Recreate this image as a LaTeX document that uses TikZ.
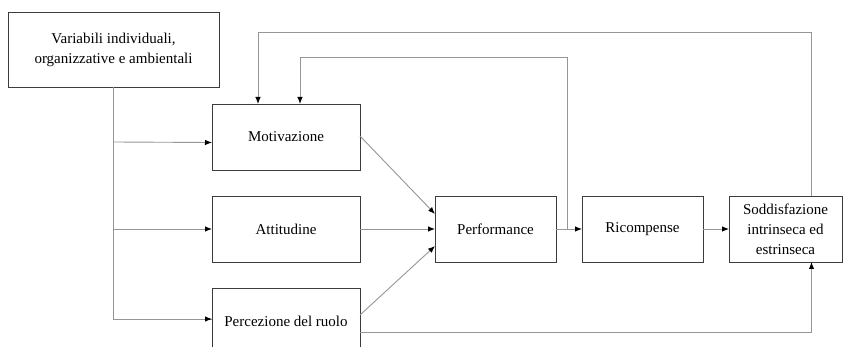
\documentclass[tikz,border=0pt]{standalone}
\usepackage{fontspec}
\setmainfont{Liberation Serif}
\usepackage{tikz}
\usetikzlibrary{positioning,arrows.meta,calc}
\definecolor{edge}{RGB}{60,60,60}
\definecolor{wire}{RGB}{150,150,150}
\newcommand\boxfontsize{\fontsize{15}{20}\selectfont}

\begin{document}
\begin{tikzpicture}[
  x=1pt, y=-1pt,
  font=\boxfontsize,
  block/.style={draw=edge,line width=0.9pt,inner sep=0pt,outer sep=0pt,align=center},
  wide/.style={minimum width=148pt,minimum height=66pt},
  narrow/.style={minimum width=121pt,minimum height=66pt},
  wire/.style={draw=wire,line width=0.9pt},
  feed/.style={wire,-{Latex[black,length=7pt,width=5.5pt]}},
]

  % Canvas
  \useasboundingbox[fill=white] (0,0) rectangle (843,347);

  \node[below right,block,minimum width=211pt,minimum height=75pt] (variabili) at (8,12)
        {Variabili individuali,\\organizzative e ambientali};

  \node[below right,block,wide] (motivazione) at (212,104) {Motivazione};
  \node[below right,block,wide] (attitudine) at (212,196) {Attitudine};
  \node[below right,block,wide] (percezione) at (212,288) {Percezione del ruolo};

  \node[below right,block,narrow] (performance) at (435,196) {Performance};
  \node[below right,block,narrow] (ricompense) at (582,196) {Ricompense};
  \node[below right,block,minimum width=113pt,minimum height=66pt] (soddisfazione) at (729,196)
        {Soddisfazione\\intrinseca ed\\estrinseca};

  % Antecedents
  \draw[wire] (variabili.south) |- ($(percezione.west)+(0,-2)$);
  \draw[feed] (variabili.south |- 0,142) -- ($(motivazione.west)+(0,5.5)$);
  \draw[feed] (variabili.south |- attitudine.west) -- (attitudine.west);
  \draw[feed] ($(variabili.south |- percezione.west)+(0,-2)$) -- ($(percezione.west)+(0,-2)$);

  \draw[feed] ($(motivazione.east)+(0,-1)$) -- ($(performance.west)+(0,-15)$);
  \draw[feed] (attitudine.east) -- (performance.west);
  \draw[feed] ($(percezione.east)+(0,-6)$) -- ($(performance.west)+(0,17)$);

  \draw[feed] (performance.east) -- (ricompense.west);
  \draw[feed] (ricompense.east) -- (soddisfazione.west);

  % Feedback loops
  \draw[feed] ($(performance.east)+(11,0)$) -- ++(0,-172) -| ($(motivazione.north)+(14,0)$);
  \draw[feed] ($(soddisfazione.north)+(26,0)$) -- ++(0,-164) -| ($(motivazione.north)+(-28,0)$);
  \draw[feed] ($(percezione.east)+(0,11)$) -| ($(soddisfazione.south)+(26,0)$);

\end{tikzpicture}
\end{document}
